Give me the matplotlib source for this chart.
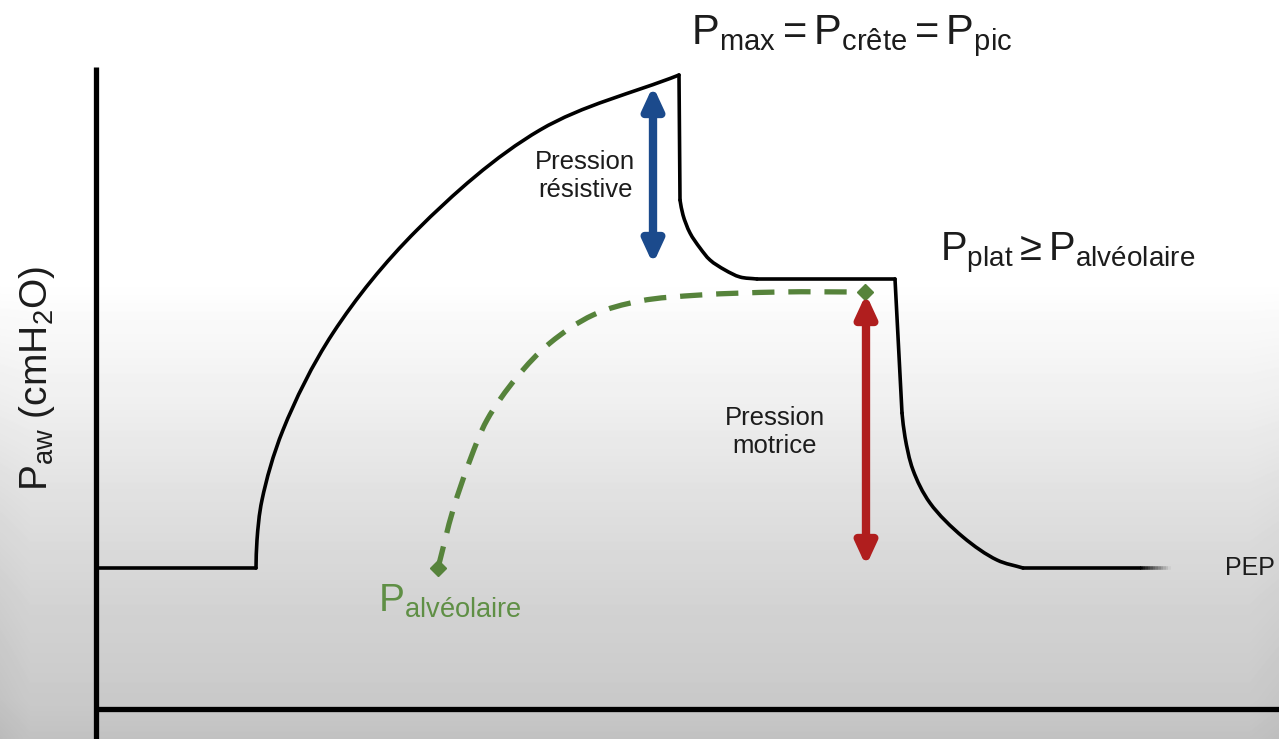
import numpy as np
import matplotlib
matplotlib.use("Agg")
import matplotlib.pyplot as plt
from matplotlib.path import Path
from matplotlib.patches import PathPatch

plt.rcParams['font.family'] = ['Liberation Sans', 'DejaVu Sans']
plt.rcParams['mathtext.fontset'] = 'custom'
plt.rcParams['mathtext.rm'] = 'Liberation Sans'
plt.rcParams['mathtext.it'] = 'Liberation Sans:italic'
plt.rcParams['mathtext.bf'] = 'Liberation Sans:bold'
plt.rcParams['lines.scale_dashes'] = False

# ---------------- data (time in s, pressure in cmH2O) ----------------
PEP = 7.05
baseline_t = [0.0, 0.64]
baseline_p = [PEP, PEP]

rise_t = [0.64, 0.644, 0.664, 0.748, 0.948, 1.284, 1.776, 2.332]
rise_p = [7.05, 8.45, 10.45, 13.95, 18.8, 23.95, 28.95, 31.7]

drop_t = [2.332, 2.336]
drop_p = [31.7, 25.45]

relax_t = [2.336, 2.348, 2.376, 2.416, 2.456, 2.516, 2.576, 2.644]
relax_p = [25.45, 24.7, 23.8, 23.05, 22.45, 21.95, 21.6, 21.5]

plateau_t = [2.644, 3.196]
plateau_p = [21.5, 21.5]

exp_drop_t = [3.196, 3.224]
exp_drop_p = [21.5, 14.8]

expiration_t = [3.224, 3.236, 3.268, 3.336, 3.468, 3.604, 3.708]
expiration_p = [14.8, 13.6, 11.95, 10.3, 8.6, 7.45, 7.05]

pep_t = [3.708, 4.176]
pep_p = [PEP, PEP]
pep_fade_end = 4.30

alv_t = [1.368, 1.428, 1.496, 1.564, 1.684, 1.816, 1.988, 2.176, 2.416, 2.736, 3.076]
alv_p = [7.05, 9.95, 12.45, 14.45, 16.6, 18.3, 19.7, 20.4, 20.7, 20.85, 20.85]

resistive_t = 2.228
resistive_p = (22.55, 30.85)
driving_t = 3.08
driving_p = (7.45, 20.45)

# ---------------- figure ----------------
W, H = 1279, 739
fig = plt.figure(figsize=(W / 100, H / 100), dpi=100)
ax = fig.add_axes([0, 0, 1, 1])
xmin, xmax = -0.384, 4.732
ymin, ymax = -1.5, 35.45
ax.set_xlim(xmin, xmax)
ax.set_ylim(ymin, ymax)
ax.axis('off')
SX = W / (xmax - xmin)   # px per data unit (x)
SY = H / (ymax - ymin)   # px per data unit (y)

# background gradient (white top -> light grey bottom)
rows = np.arange(H)
stops_y = [0, 280, 400, 500, 600, 700, 739]
stops_v = [1.0, 1.0, 0.94, 0.88, 0.83, 0.79, 0.76]
col = np.interp(rows, stops_y, stops_v)[:, None]
cols = np.arange(W)
hfac = np.interp(cols, [0, 30, W - 30, W], [0.985, 1.0, 1.0, 0.99])[None, :]
grad = np.clip(1 - (1 - col) * (1 + (1 - hfac) * 8), 0, 1)
ax.imshow(grad, extent=(xmin, xmax, ymin, ymax), aspect='auto', cmap='gray',
          vmin=0, vmax=1, origin='upper', zorder=0, interpolation='bilinear')


def smooth_path(ts, ps, a=0.5):
    """Centripetal Catmull-Rom through the points, as cubic Bezier path."""
    pts = np.column_stack([np.asarray(ts) * SX, np.asarray(ps) * SY]).astype(float)
    n = len(pts)
    ext = np.vstack([2 * pts[0] - pts[1], pts, 2 * pts[-1] - pts[-2]])
    verts = [pts[0]]
    codes = [Path.MOVETO]
    for i in range(n - 1):
        p0, p1, p2, p3 = ext[i], ext[i + 1], ext[i + 2], ext[i + 3]
        d1 = max(np.linalg.norm(p1 - p0), 1e-9)
        d2 = max(np.linalg.norm(p2 - p1), 1e-9)
        d3 = max(np.linalg.norm(p3 - p2), 1e-9)
        d1a, d2a, d3a = d1 ** a, d2 ** a, d3 ** a
        c1 = (d1a ** 2 * p2 - d2a ** 2 * p0 + (2 * d1a ** 2 + 3 * d1a * d2a + d2a ** 2) * p1) / (3 * d1a * (d1a + d2a))
        c2 = (d3a ** 2 * p1 - d2a ** 2 * p3 + (2 * d3a ** 2 + 3 * d3a * d2a + d2a ** 2) * p2) / (3 * d3a * (d3a + d2a))
        verts += [c1, c2, p2]
        codes += [Path.CURVE4] * 3
    verts = np.array(verts) / np.array([SX, SY])
    return Path(verts, codes)


# axes lines
ax.plot([0, 0], [32.1, ymin], color='black', lw=3.8, solid_capstyle='butt', zorder=3)
ax.plot([0, xmax], [0, 0], color='black', lw=3.8, solid_capstyle='butt', zorder=3)

# main pressure curve
for ts, ps in [(baseline_t, baseline_p), (rise_t, rise_p), (drop_t, drop_p),
               (relax_t, relax_p), (plateau_t, plateau_p), (exp_drop_t, exp_drop_p),
               (expiration_t, expiration_p), (pep_t, pep_p)]:
    ax.add_patch(PathPatch(smooth_path(ts, ps), fill=False, edgecolor='black',
                           lw=2.6, capstyle='round', joinstyle='round', zorder=4))
# fading end of PEP line
nf = 12
fxs = np.linspace(pep_t[-1], pep_fade_end, nf + 1)
for i in range(nf):
    ax.plot(fxs[i:i + 2], [PEP, PEP], color='black', lw=2.6,
            alpha=1 - (i + 0.5) / nf, solid_capstyle='butt', zorder=4)

# alveolar pressure (green dashed)
green = '#56833b'
ax.add_patch(PathPatch(smooth_path(alv_t, alv_p), fill=False, edgecolor=green,
                       lw=3.8, linestyle=(0, (16, 10)), capstyle='butt', zorder=4))
ax.plot([alv_t[0]], [alv_p[0]], marker='D', color=green, ms=8, zorder=5)
ax.plot([alv_t[-1]], [alv_p[-1]], marker='D', color=green, ms=8, zorder=5)

# double arrows (pad compensates the head stroke)
pad = 6 / SY
for xv, (lo, hi), c in [(resistive_t, resistive_p, '#1b4a8c'),
                        (driving_t, driving_p, '#b01e1e')]:
    ax.annotate('', xy=(xv, hi + pad), xytext=(xv, lo - pad),
                arrowprops=dict(arrowstyle='<|-|>,head_length=0.65,head_width=0.3',
                                lw=6.0, color=c, mutation_scale=20,
                                shrinkA=0, shrinkB=0), zorder=5)


def fx_(px):
    return px / W


def fy_(py):
    return 1 - py / H


txt = '#1c1c1c'
fig.text(fx_(691), fy_(44), r'$\mathrm{P}_{\mathrm{max}} = \mathrm{P}_{\mathrm{crête}} = \mathrm{P}_{\mathrm{pic}}$',
         ha='left', va='baseline', fontsize=30, color=txt)
fig.text(fx_(940), fy_(260), r'$\mathrm{P}_{\mathrm{plat}} \geq \mathrm{P}_{\mathrm{alvéolaire}}$',
         ha='left', va='baseline', fontsize=28.7, color=txt)
fig.text(fx_(378), fy_(612), r'$\mathrm{P}_{\mathrm{alvéolaire}}$',
         ha='left', va='baseline', fontsize=28, color='#5f8f45')
fig.text(fx_(37), fy_(378), r'$\mathrm{P}_{\mathrm{aw}}\ \mathrm{(cmH_2O)}$',
         ha='center', va='center', rotation=90, fontsize=28, color=txt)
fig.text(fx_(585), fy_(176), 'Pression\nrésistive', ha='center', va='center',
         fontsize=18.5, color=txt, linespacing=1.2)
fig.text(fx_(775), fy_(432), 'Pression\nmotrice', ha='center', va='center',
         fontsize=18.5, color=txt, linespacing=1.2)
fig.text(fx_(1225), fy_(568), 'PEP', ha='left', va='center', fontsize=18, color=txt)

fig.savefig('out.png', dpi=100)
